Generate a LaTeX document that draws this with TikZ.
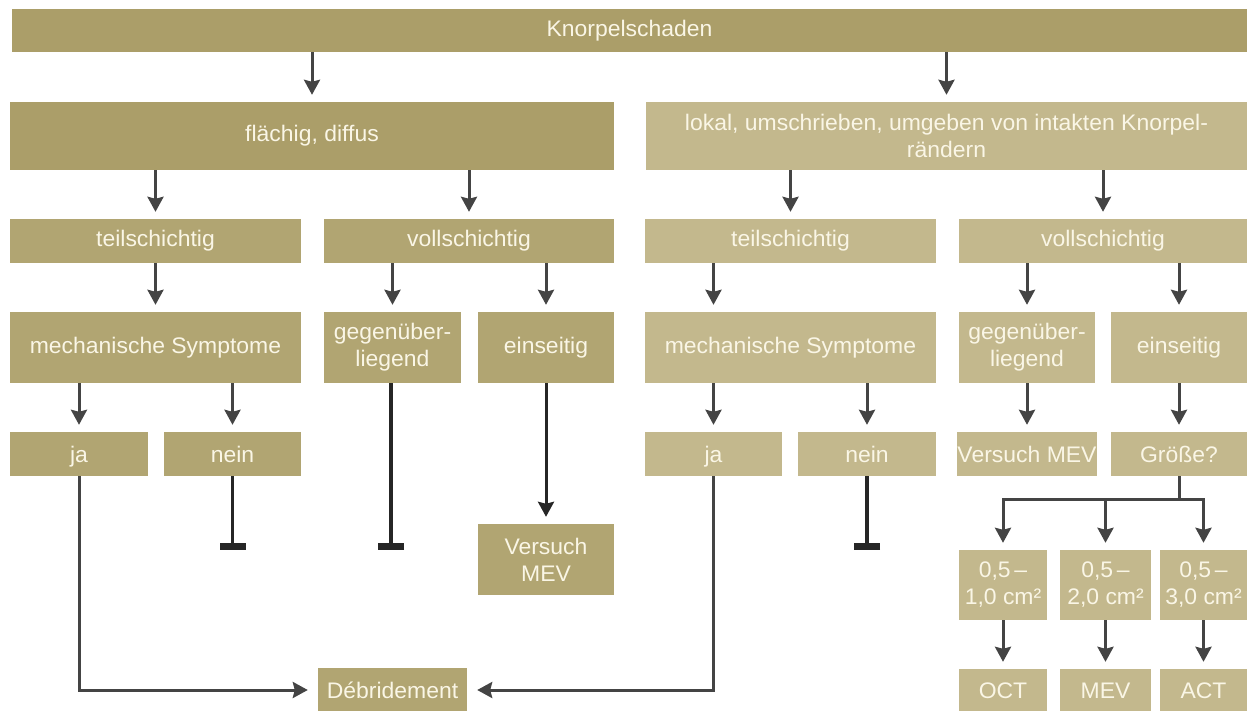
\documentclass[tikz,border=0pt]{standalone}
\usepackage{fontspec}
\setmainfont{Liberation Sans}[FakeStretch=1.02]
\usetikzlibrary{arrows.meta,positioning,calc}
\definecolor{kdark}{HTML}{AB9E69}
\definecolor{kmid}{HTML}{B1A572}
\definecolor{klight}{HTML}{C3B88D}
\definecolor{ktext}{HTML}{FAF6E6}
\definecolor{kline}{HTML}{444444}

\begin{document}
\begin{tikzpicture}[
  x=1pt, y=-1pt,
  font=\fontsize{22.5}{27}\selectfont,
  >={Stealth[length=15pt,width=16pt,inset=2pt]},
  box/.style={fill=kmid, text=ktext, align=center, inner sep=0pt, minimum height=44pt},
  dbox/.style={box, fill=kdark},
  lbox/.style={box, fill=klight},
  ans/.style={text height=16pt, text depth=0pt},
  arr/.style={->, kline, line width=3pt, shorten >=7pt},
  endbar/.style={-{Bar[width=26pt,line width=7pt]}, black!85, line width=3.5pt}
]
\useasboundingbox (0,0) rectangle (1249,711);

% Top: damage and its two kinds
\node[dbox, minimum width=1235pt, minimum height=43pt] (knorp) at (629.5,30.5) {Knorpelschaden};
\node[dbox, minimum width=604pt, minimum height=68pt] (flaech) at (312,136) {flächig, diffus};
\node[lbox, minimum width=601pt, minimum height=68pt] (lokal) at (946.5,136)
  {lokal, umschrieben, umgeben von intakten Knorpel-\\rändern};

% Depth
\node[box, minimum width=291pt] (teilL) at (155.5,241) {teilschichtig};
\node[box, minimum width=290pt] (vollL) at (469,241) {vollschichtig};
\node[lbox, minimum width=291pt] (teilR) at (790.5,241) {teilschichtig};
\node[lbox, minimum width=288pt] (vollR) at (1103,241) {vollschichtig};

% Symptoms / sides
\node[box, minimum width=291pt, minimum height=71pt] (mechL) at (155.5,347.5) {mechanische Symptome};
\node[box, minimum width=137pt, minimum height=71pt] (gegenL) at (392.5,347.5) {gegenüber-\\liegend};
\node[box, minimum width=136pt, minimum height=71pt] (einsL) at (546,347.5) {einseitig};
\node[lbox, minimum width=291pt, minimum height=71pt] (mechR) at (790.5,347.5) {mechanische Symptome};
\node[lbox, minimum width=136pt, minimum height=71pt] (gegenR) at (1027,347.5) {gegenüber-\\liegend};
\node[lbox, minimum width=136pt, minimum height=71pt] (einsR) at (1179,347.5) {einseitig};

% Answers
\node[box, ans, minimum width=138pt] (jaL) at (79,454) {ja};
\node[box, ans, minimum width=137pt] (neinL) at (232.5,454) {nein};
\node[lbox, ans, minimum width=137pt] (jaR) at (713.5,454) {ja};
\node[lbox, ans, minimum width=138pt] (neinR) at (867,454) {nein};
\node[lbox, ans, minimum width=136pt] (versR) at (1027,454) {Versuch MEV};
\node[lbox, ans, minimum width=136pt] (groesse) at (1179,454) {Größe?};

% Therapy
\node[box, minimum width=136pt, minimum height=71pt] (versL) at (546,559.5) {Versuch\\MEV};
\node[box, minimum width=149pt] (debr) at (392.5,690) {Débridement};
\node[lbox, minimum width=88pt, minimum height=70pt] (size1) at (1003,585) {0,5\,–\\1,0 cm²};
\node[lbox, minimum width=91pt, minimum height=70pt] (size2) at (1105.5,585) {0,5\,–\\2,0 cm²};
\node[lbox, minimum width=87pt, minimum height=70pt] (size3) at (1203.5,585) {0,5\,–\\3,0 cm²};
\node[lbox, minimum width=88pt, minimum height=43pt] (oct) at (1003,690.5) {OCT};
\node[lbox, minimum width=91pt, minimum height=43pt] (mev) at (1105.5,690.5) {MEV};
\node[lbox, minimum width=87pt, minimum height=43pt] (act) at (1203.5,690.5) {ACT};

\coordinate (neinLend) at (232.5,550);
\coordinate (gegenLend) at (391,550);
\coordinate (neinRend) at (867,550);
\coordinate (gsplit) at (1179,499);

% Connectors
\draw[arr] (knorp.south -| flaech.north) -- (flaech.north);
\draw[arr] (knorp.south -| lokal.north) -- (lokal.north);
\draw[arr] (flaech.south -| teilL.north) -- (teilL.north);
\draw[arr] (flaech.south -| vollL.north) -- (vollL.north);
\draw[arr] (lokal.south -| teilR.north) -- (teilR.north);
\draw[arr] (lokal.south -| vollR.north) -- (vollR.north);
\draw[arr] (teilL) -- (mechL);
\draw[arr] (vollL.south -| gegenL.north) -- (gegenL.north);
\draw[arr] (vollL.south -| einsL.north) -- (einsL.north);
\draw[arr] (teilR.south -| jaR.north) -- (mechR.north -| jaR.north);
\draw[arr] (vollR.south -| gegenR.north) -- (gegenR.north);
\draw[arr] (vollR.south -| einsR.north) -- (einsR.north);
\draw[arr] (mechL.south -| jaL.north) -- (jaL.north);
\draw[arr] (mechL.south -| neinL.north) -- (neinL.north);
\draw[arr] (mechR.south -| jaR.north) -- (jaR.north);
\draw[arr] (mechR.south -| neinR.north) -- (neinR.north);
\draw[arr] (gegenR) -- (versR);
\draw[arr] (einsR) -- (groesse);
\draw[arr, black!85] (einsL) -- (versL);
\draw[endbar] (neinL.south) -- (neinLend);
\draw[endbar] (gegenL.south -| gegenLend) -- (gegenLend);
\draw[endbar] (neinR.south) -- (neinRend);
\draw[arr, shorten >=10pt] (jaL.south) |- (debr.west);
\draw[arr, shorten >=10pt] (jaR.south) |- (debr.east);

% Size split
\draw[kline, line width=3pt] (groesse.south) -- (gsplit);
\draw[arr] (gsplit) -| (size1.north);
\draw[arr] (gsplit) -| (size3.north);
\draw[arr] (gsplit -| size2.north) -- (size2.north);
\draw[arr] (size1) -- (oct);
\draw[arr] (size2) -- (mev);
\draw[arr] (size3) -- (act);
\end{tikzpicture}
\end{document}
